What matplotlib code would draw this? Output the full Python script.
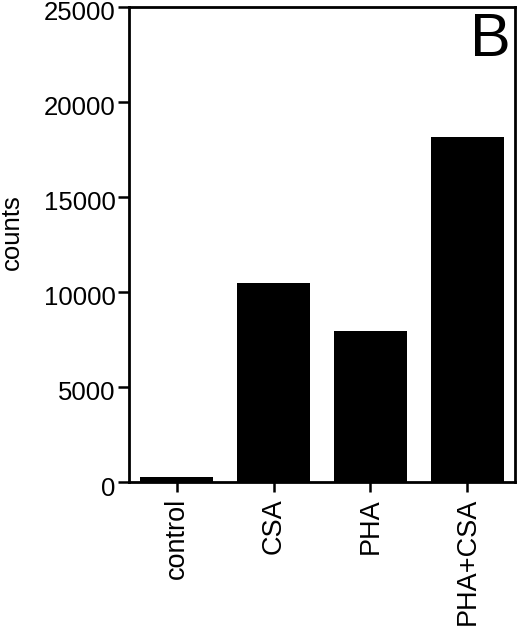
import matplotlib
matplotlib.use("Agg")
import matplotlib.pyplot as plt
import matplotlib.transforms as mtransforms

categories = ["control", "CSA", "PHA", "PHA+CSA"]
values = [250, 10490, 7950, 18170]
yticks = [0, 5000, 10000, 15000, 20000, 25000]

plt.rcParams['font.family'] = ['Liberation Sans', 'DejaVu Sans']

fig = plt.figure(figsize=(5.2, 6.35), dpi=100)
ax = fig.add_axes([129/520, 1 - 482/635, (515-129)/520, (482-7)/635])
x = list(range(len(categories)))
ax.bar(x, values, width=0.75, color='black')
ax.set_xlim(-0.49, 3.49)
ax.set_ylim(0, 25000)
ax.set_yticks(yticks)
ax.set_yticklabels([str(v) for v in yticks], fontsize=18.5)
ax.set_xticks(x)
ax.set_xticklabels(categories, rotation=90, fontsize=19.5)
ax.set_ylabel("counts", fontsize=18.5)
ax.yaxis.set_label_coords(-0.272, 0.526)
for s in ax.spines.values():
    s.set_linewidth(2)
ax.tick_params(axis='y', direction='out', length=8, width=1.8, pad=1.5)
ax.tick_params(axis='x', direction='out', length=7.5, width=1.8, pad=4)
offset = mtransforms.ScaledTranslation(0, -4/100, fig.dpi_scale_trans)
for lab in ax.get_yticklabels():
    lab.set_transform(lab.get_transform() + offset)
ax.text(0.99, 0.897, "B", transform=ax.transAxes, ha='right', va='baseline', fontsize=44)
fig.savefig("out.png", dpi=100)
